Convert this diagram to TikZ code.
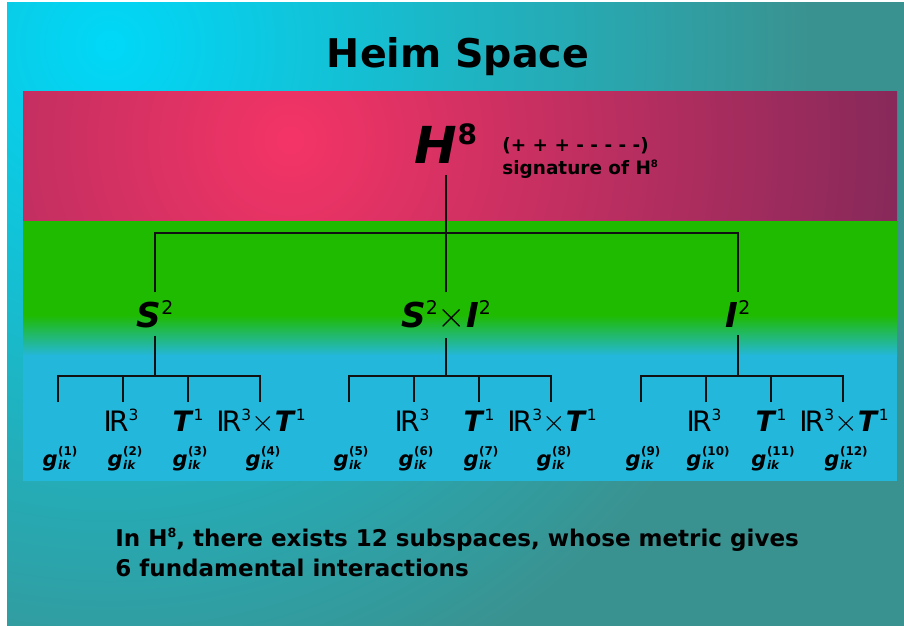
\documentclass[tikz,border=0pt]{standalone}
\usepackage{fontspec}
\usepackage{graphicx}
\setmainfont{DejaVu Sans}
\setsansfont{DejaVu Sans}
\usetikzlibrary{positioning}
\definecolor{ccyan}{HTML}{00D8F8}
\definecolor{cteal}{HTML}{3A9290}
\definecolor{cpink}{HTML}{F43466}
\definecolor{cplum}{HTML}{84295A}
\definecolor{cgreen}{HTML}{1FBB00}
\definecolor{cblue}{HTML}{24B7DC}
\definecolor{cink}{HTML}{111111}
\newcommand{\supnum}[1]{\raisebox{0.36em}{\scalebox{0.55}{#1}}}
\newcommand{\reals}{\textmd{\textup{I\kern-0.1em R}}}
\newcommand{\gmet}[1]{\textbf{\textit{g}}\kern0.3pt\raisebox{-0.15em}{\fontsize{6.8}{8}\selectfont\bfseries\begin{tabular}[b]{@{}l@{}}(#1)\\\itshape ik\end{tabular}}}
\tikzset{
  title/.style={font=\bfseries\fontsize{22.5}{27}\selectfont, inner sep=0pt},
  root/.style={font=\bfseries\itshape\fontsize{29}{34}\selectfont, inner sep=6.5pt},
  sig/.style={font=\bfseries\fontsize{10.5}{13.2}\selectfont, align=left, inner sep=0pt},
  branch/.style={font=\bfseries\itshape\fontsize{19.5}{23}\selectfont, inner sep=4.5pt},
  leaf/.style={font=\fontsize{16}{19}\selectfont, inner sep=0pt},
  metric/.style={font=\fontsize{12}{14}\selectfont, inner sep=0pt},
  caption/.style={font=\bfseries\fontsize{13.1}{17.6}\selectfont, align=left, inner sep=0pt},
  tree/.style={draw=cink, line width=1.1pt},
}

\begin{document}
\begin{tikzpicture}[x=0.02cm, y=-0.02cm]
  \useasboundingbox (0,0) rectangle (904,626);
  % backdrop and bands
  \begin{scope}
    \clip (7,2) rectangle (904,626);
    \fill[cteal] (7,2) rectangle (904,626);
    \shade[inner color=ccyan, outer color=cteal] (110,45) circle (14cm);
  \end{scope}
  \begin{scope}
    \clip (23,91) rectangle (897,221);
    \fill[cplum] (23,91) rectangle (897,221);
    \shade[inner color=cpink, outer color=cplum] (290,140) circle (12.5cm);
  \end{scope}
  \fill[cgreen] (23,221) rectangle (897,316);
  \shade[top color=cgreen, bottom color=cblue] (23,315) rectangle (897,356);
  \fill[cblue] (23,355) rectangle (897,481);

  \node[title, anchor=base] (ttl) at (458,67) {Heim Space};
  \node[root, anchor=base] (h8) at (446,163) {H\supnum{\upshape 8}};
  \node[sig, anchor=north west] (sg) at (502,137) {(+ + + - - - - -)\\signature of H\supnum{8}};

  \node[branch, anchor=base] (s2) at (155,327) {S\supnum{\mdseries\upshape 2}};
  \node[branch, anchor=base] (si) at (446,327) {S\supnum{\mdseries\upshape 2}{\mdseries\upshape$\times$}I\supnum{\mdseries\upshape 2}};
  \node[branch, anchor=base] (i2) at (738,327) {I\supnum{\mdseries\upshape 2}};

  \coordinate (hbar) at (446,233);
  \draw[tree] (h8) -- (hbar);
  \draw[tree] (s2.north) -- (s2.north |- hbar) -- (i2.north |- hbar) -- (i2.north);
  \draw[tree] (si.north) -- (si.north |- hbar);

  \foreach \p/\c/\a/\b/\e/\f in {s2/155/1/2/3/4, si/446/5/6/7/8, i2/738/9/10/11/12} {
    \coordinate (\p bar) at (\c,376);
    \coordinate (\p L1) at (\c-97,402);
    \coordinate (\p L2) at (\c-32,402);
    \coordinate (\p L3) at (\c+33,402);
    \coordinate (\p L4) at (\c+105,402);
    \draw[tree] (\p.south) -- (\p bar);
    \draw[tree] (\p L1) -- (\p L1 |- \p bar) -- (\p L4 |- \p bar) -- (\p L4);
    \draw[tree] (\p L2) -- (\p L2 |- \p bar);
    \draw[tree] (\p L3) -- (\p L3 |- \p bar);
    \node[leaf, anchor=base] (\p R) at (\c-34,431) {\reals\supnum{3}};
    \node[leaf, anchor=base] (\p T) at (\c+33,431) {\textbf{\textit{T}}\supnum{1}};
    \node[leaf, anchor=base] (\p RT) at (\c+106,431) {\reals\supnum{3}$\times$\textbf{\textit{T}}\supnum{1}};
    \node[metric, anchor=base] (\p g1) at (\c-95,466) {\gmet{\a}};
    \node[metric, anchor=base] (\p g2) at (\c-30,466) {\gmet{\b}};
    \node[metric, anchor=base] (\p g3) at (\c+35,466) {\gmet{\e}};
    \node[metric, anchor=base] (\p g4) at (\c+108,466) {\gmet{\f}};
  }

  \node[caption, anchor=north west] (cap) at (115,528) {In H\supnum{8}, there exists 12 subspaces, whose metric gives\\6 fundamental interactions};
\end{tikzpicture}
\end{document}
